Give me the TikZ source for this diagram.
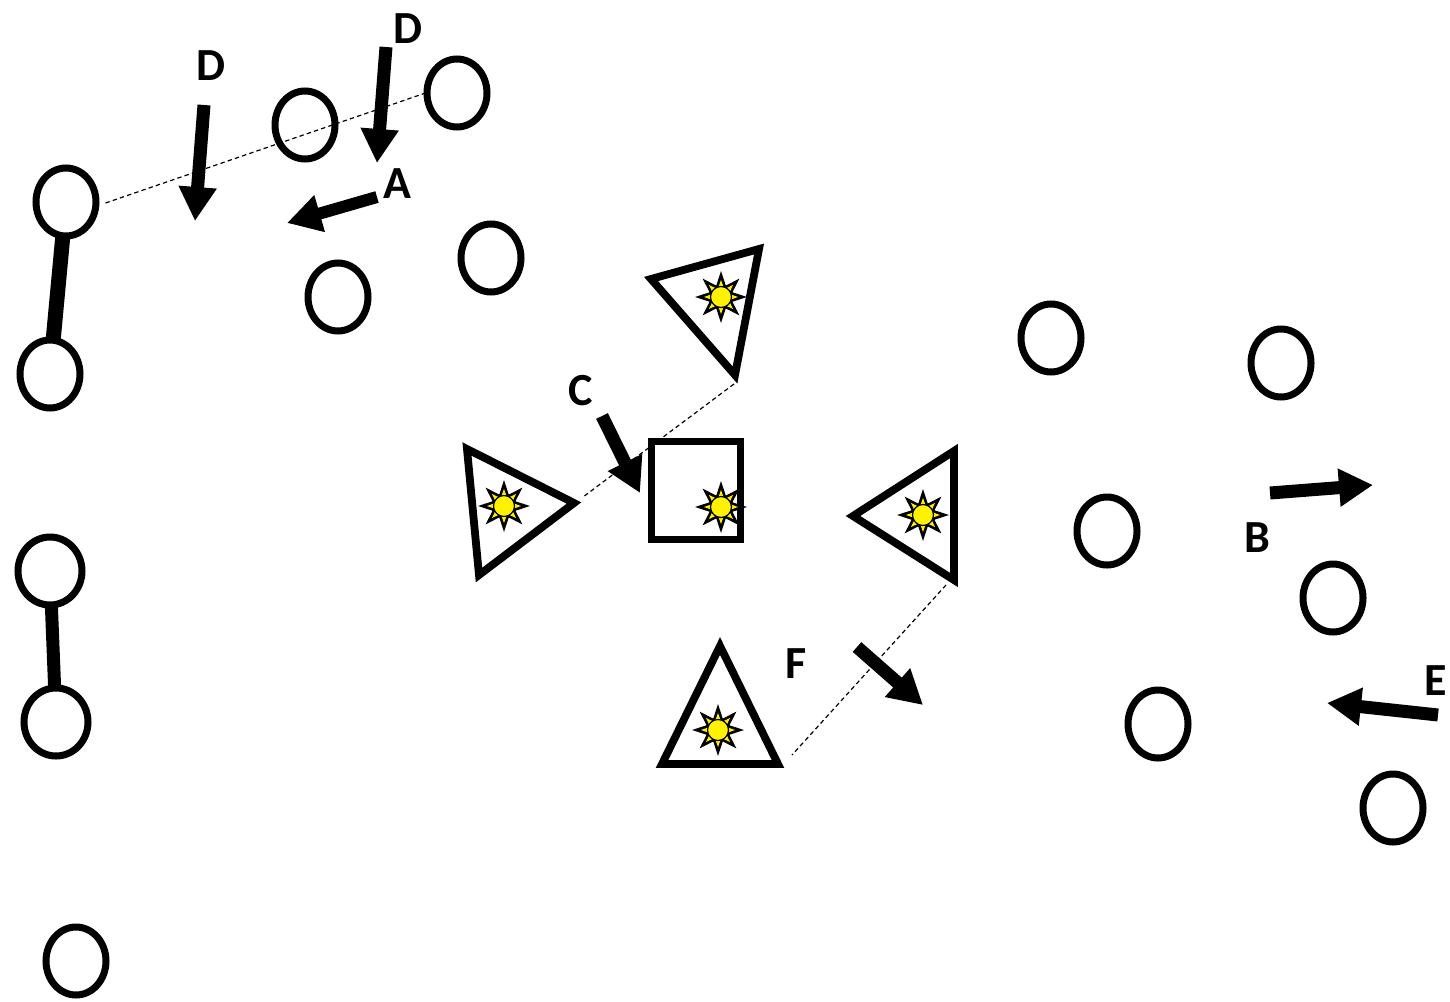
\documentclass[tikz,border=0pt]{standalone}
\usepackage{fontspec}
\setmainfont{Carlito}
\usetikzlibrary{shapes.geometric,arrows.meta}
\begin{document}
\begin{tikzpicture}[x=0.5pt,y=-0.5pt,
  player/.style={ellipse,draw=black,fill=white,line width=3.5pt,minimum width=30pt,minimum height=34pt,inner sep=0pt,outer sep=0pt},
  wideplayer/.style={player,minimum width=32pt},
  bar/.style={line width=7.5pt},
  guide/.style={line width=0.6pt,dash pattern=on 2.2pt off 1.6pt},
  cone/.style={draw=black,fill=white,line width=3.9pt,line join=miter},
  move/.style={line width=6.5pt,-{Triangle[length=17pt,width=18pt]}},
  lbl/.style={font=\bfseries\fontsize{23}{23}\selectfont,inner sep=0pt},
  sun/.pic={
    \node[star,star points=8,star point ratio=2.1,minimum size=26pt,inner sep=0pt,fill=black] (-bk) at (0,0) {};
    \node[star,star points=8,star point ratio=2,minimum size=17pt,inner sep=0pt,fill=yellow] (-yl) at (0,0) {};
    \node[circle,minimum size=10.5pt,inner sep=0pt,fill=yellow,draw=black,line width=0.6pt] (-c) at (0,0) {};
  }
]
\useasboundingbox[fill=white] (0,0) rectangle (1450,1001);

% players
\node[player] (p1) at (305,125) {};
\node[player] (p2) at (457,93) {};
\node[player] (p3) at (66,202) {};
\node[player] (p4) at (50,374) {};
\node[player] (p5) at (338,297) {};
\node[player] (p6) at (491,258) {};
\node[wideplayer] (p7) at (50,571) {};
\node[wideplayer] (p8) at (56,722) {};
\node[player] (p9) at (76,961) {};
\node[player] (p10) at (1051,338) {};
\node[player] (p11) at (1281,363) {};
\node[player] (p12) at (1107,531) {};
\node[player] (p13) at (1333,598) {};
\node[player] (p14) at (1158,724) {};
\node[player] (p15) at (1393,808) {};

% bars
\draw[bar] (p3) -- (p4);
\draw[bar,line width=6.5pt] (p7) -- (p8);

% triangle vertices
\coordinate (t1a) at (651,279); \coordinate (t1b) at (759,249); \coordinate (t1c) at (735,375);
\coordinate (t2a) at (467,449); \coordinate (t2b) at (574,503); \coordinate (t2c) at (479,575);
\coordinate (t3a) at (853,516); \coordinate (t3b) at (954,451); \coordinate (t3c) at (954,580);
\coordinate (t4a) at (720,646); \coordinate (t4b) at (662,764); \coordinate (t4c) at (778,764);

% guide lines
\coordinate (g1) at (734,384); \coordinate (g2) at (583,497);
\coordinate (g3) at (946,585); \coordinate (g4) at (792,755);
\draw[guide] ([xshift=4.75pt,yshift=-0.5pt]p3.east) -- ([xshift=-0.75pt]p2.west);
\draw[guide] (g1) -- (g2);
\draw[guide] (g3) -- (g4);

% cones
\draw[cone] (t1a) -- (t1b) -- (t1c) -- cycle;
\draw[cone] (t2a) -- (t2b) -- (t2c) -- cycle;
\draw[cone] (t3a) -- (t3b) -- (t3c) -- cycle;
\draw[cone] (t4a) -- (t4b) -- (t4c) -- cycle;
\node[draw=black,fill=white,line width=3.8pt,minimum width=44.5pt,minimum height=49pt,inner sep=0pt] (box) at (696,490.5) {};

\pic (s1) at (721,297) {sun};
\pic (s2) at (504,506) {sun};
\pic (s3) at (721,507) {sun};
\pic (s4) at (923,515) {sun};
\pic (s5) at (718,730) {sun};

% movement arrows
\coordinate (d1s) at (204,105); \coordinate (d1e) at (195,221);
\coordinate (d2s) at (386,47); \coordinate (d2e) at (377,163);
\coordinate (as) at (377,197); \coordinate (ae) at (287,223);
\coordinate (cs) at (602,416); \coordinate (ce) at (640,493);
\coordinate (bs) at (1270,493); \coordinate (be) at (1373,485);
\coordinate (es) at (1438,715); \coordinate (ee) at (1327,703);
\coordinate (fs) at (857,647); \coordinate (fe) at (923,705);
\draw[move] (d1s) -- (d1e);
\draw[move] (d2s) -- (d2e);
\draw[move,line width=6pt] (as) -- (ae);
\draw[move] (cs) -- (ce);
\draw[move] (bs) -- (be);
\draw[move] (es) -- (ee);
\draw[move] (fs) -- (fe);

% labels
\node[lbl] (ld1) at (211,66) {D};
\node[lbl] (ld2) at (408,29) {D};
\node[lbl] (la) at (397,184) {A};
\node[lbl] (lc) at (581,391) {C};
\node[lbl] (lb) at (1257,538) {B};
\node[lbl] (le) at (1436,681) {E};
\node[lbl] (lf) at (796,664) {F};
\end{tikzpicture}
\end{document}
